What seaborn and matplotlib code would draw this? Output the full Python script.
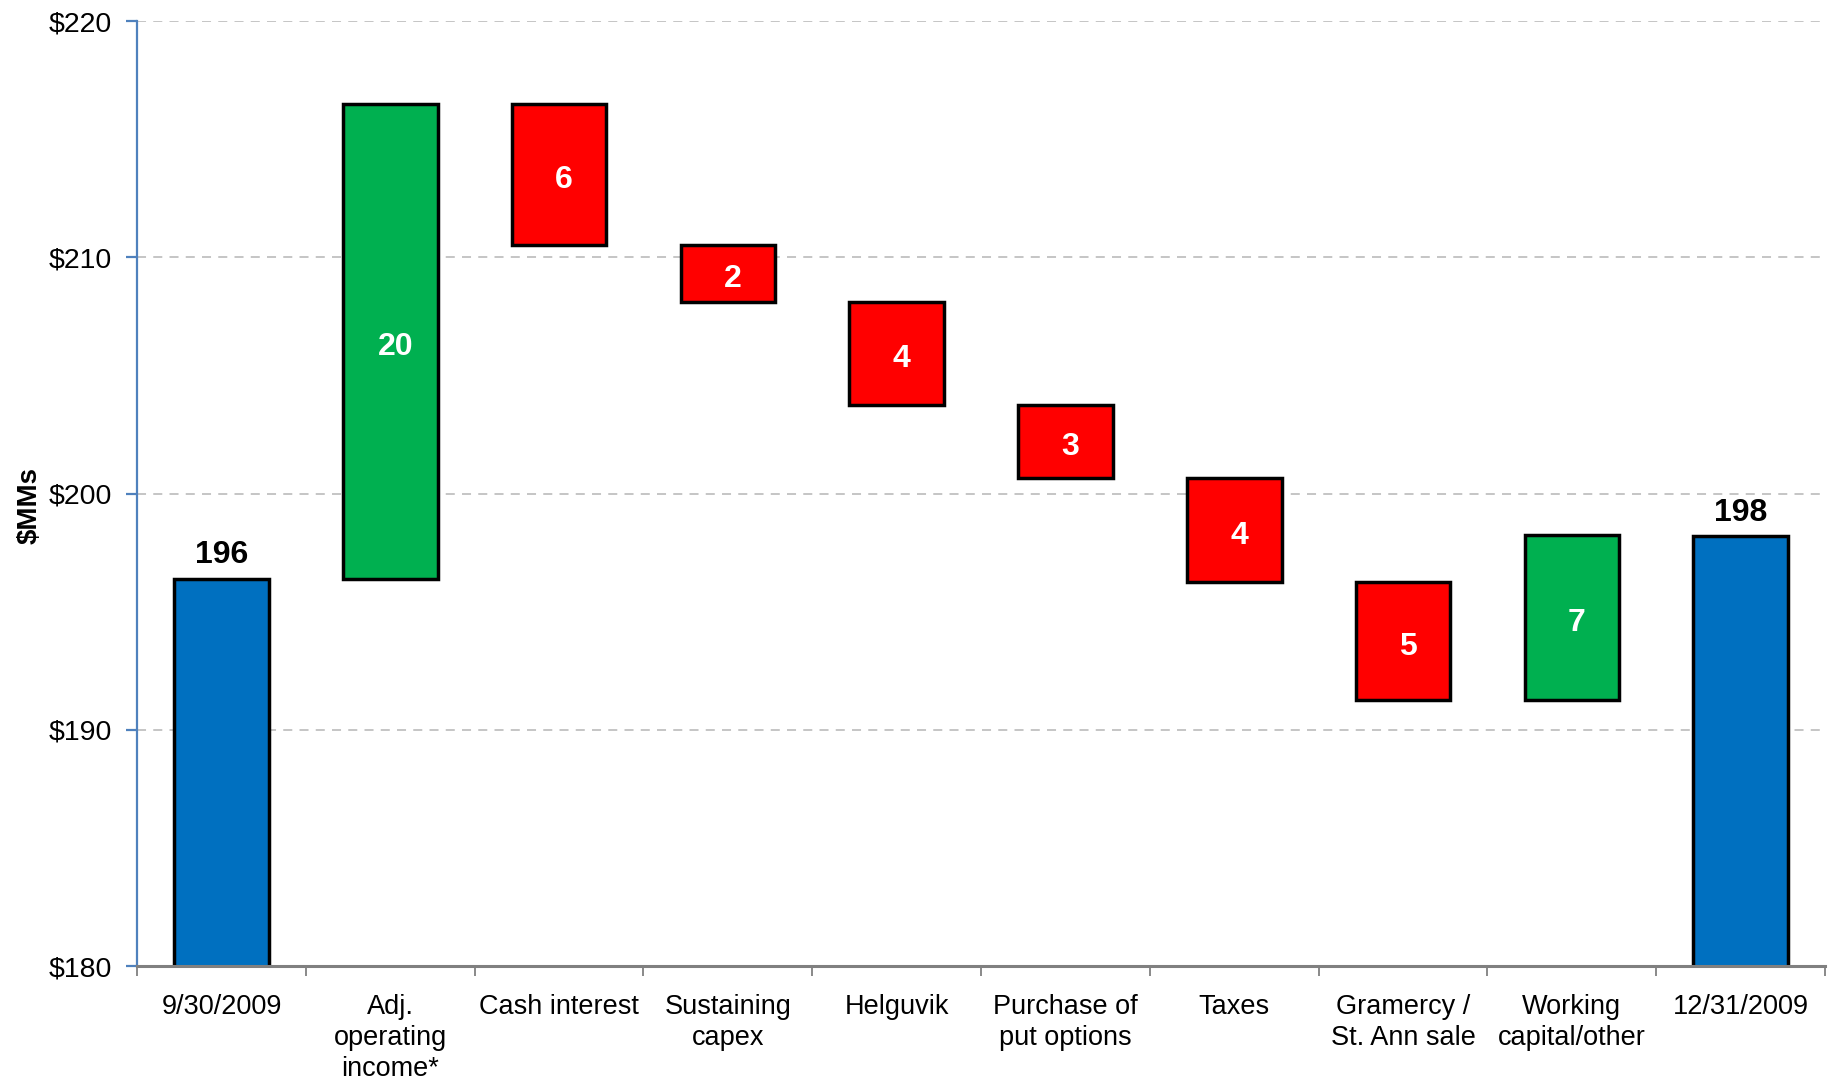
import numpy as np
import pandas as pd
import matplotlib
matplotlib.use("Agg")
import matplotlib.pyplot as plt
import seaborn as sns

# ---- data ----
categories = ["9/30/2009", "Adj.\noperating\nincome*", "Cash interest", "Sustaining\ncapex",
              "Helguvik", "Purchase of\nput options", "Taxes", "Gramercy /\nSt. Ann sale",
              "Working\ncapital/other", "12/31/2009"]
start_value = 196.4
deltas = [20.1, -6.0, -2.4, -4.35, -3.1, -4.4, -5.0, 7.0]
end_value = 198.2
bar_labels = ["196", "20", "6", "2", "4", "3", "4", "5", "7", "198"]
y_ticks = [180, 190, 200, 210, 220]
y_tick_labels = ["$180", "$190", "$200", "$210", "$220"]

# ---- derived floating bars ----
bottoms, tops, kinds = [0.0], [start_value], ["total"]
level = start_value
for d in deltas:
    new = level + d
    bottoms.append(min(level, new))
    tops.append(max(level, new))
    kinds.append("up" if d > 0 else "down")
    level = new
bottoms.append(0.0)
tops.append(end_value)
kinds.append("total")
heights = [t - b for t, b in zip(tops, bottoms)]
df = pd.DataFrame({"cat": categories, "height": heights, "bottom": bottoms,
                   "top": tops, "kind": kinds, "label": bar_labels})

color_map = {"total": "#0070C0", "up": "#00B050", "down": "#FF0000"}

sns.set_theme(style="white")
plt.rcParams["font.family"] = ["Liberation Sans", "DejaVu Sans"]
plt.rcParams["text.color"] = "black"
plt.rcParams["axes.labelcolor"] = "black"

fig = plt.figure(figsize=(18.37, 10.83), dpi=100)
ax = fig.add_axes([0.0746, 0.108, 0.9189, 0.8726])

sns.barplot(data=df, x="cat", y="height", bottom=df["bottom"].values, color="#0070C0",
            width=0.56, edgecolor="black", linewidth=2.5, ax=ax, zorder=3)
for patch, k in zip(ax.patches, df["kind"]):
    patch.set_facecolor(color_map[k])

ax.set_ylim(180, 220)
ax.set_xlim(-0.5, len(categories) - 0.5)

# gridlines
ax.set_yticks(y_ticks)
ax.set_yticklabels(y_tick_labels)
ax.yaxis.grid(True, linestyle=(0, (5, 4)), color="#C0C0C0", linewidth=1.3, zorder=0)
ax.set_axisbelow(True)

# spines
for s in ["top", "right"]:
    ax.spines[s].set_visible(False)
ax.spines["left"].set_color("#4F81BD")
ax.spines["left"].set_linewidth(1.6)
ax.spines["bottom"].set_color("#808080")
ax.spines["bottom"].set_linewidth(2.2)
ax.spines["bottom"].set_zorder(5)

ax.tick_params(axis="y", which="major", direction="out", length=8, width=1.6,
               color="#4F81BD", labelcolor="black", labelsize=20.5, pad=10, left=True)
ax.set_xticks(range(len(categories)))
ax.set_xticklabels(categories)
ax.tick_params(axis="x", which="major", length=0, labelsize=19.5, pad=20, labelcolor="black")
ax.set_xticks(np.arange(-0.5, len(categories)), minor=True)
ax.tick_params(axis="x", which="minor", direction="out", length=7, width=1.3,
               color="#808080", bottom=True)
for t in ax.get_xticklabels():
    t.set_linespacing(1.25)

ax.set_xlabel("")
ax.set_ylabel("\\$MMs", fontsize=20, fontweight="bold", color="black")
ax.yaxis.set_label_coords(-0.056, 0.487)

# labels
for i, row in df.iterrows():
    if row["kind"] == "total":
        ax.annotate(row["label"], (i, row["top"]), xytext=(0, 6), textcoords="offset points",
                    ha="center", va="bottom", fontsize=23, fontweight="bold", color="black")
    else:
        ax.annotate(row["label"], (i + 0.03, (row["top"] + row["bottom"]) / 2),
                    xytext=(0, -4), textcoords="offset points", ha="center",
                    va="center", fontsize=23, fontweight="bold", color="white", zorder=6)

fig.savefig("out.png", dpi=100)
